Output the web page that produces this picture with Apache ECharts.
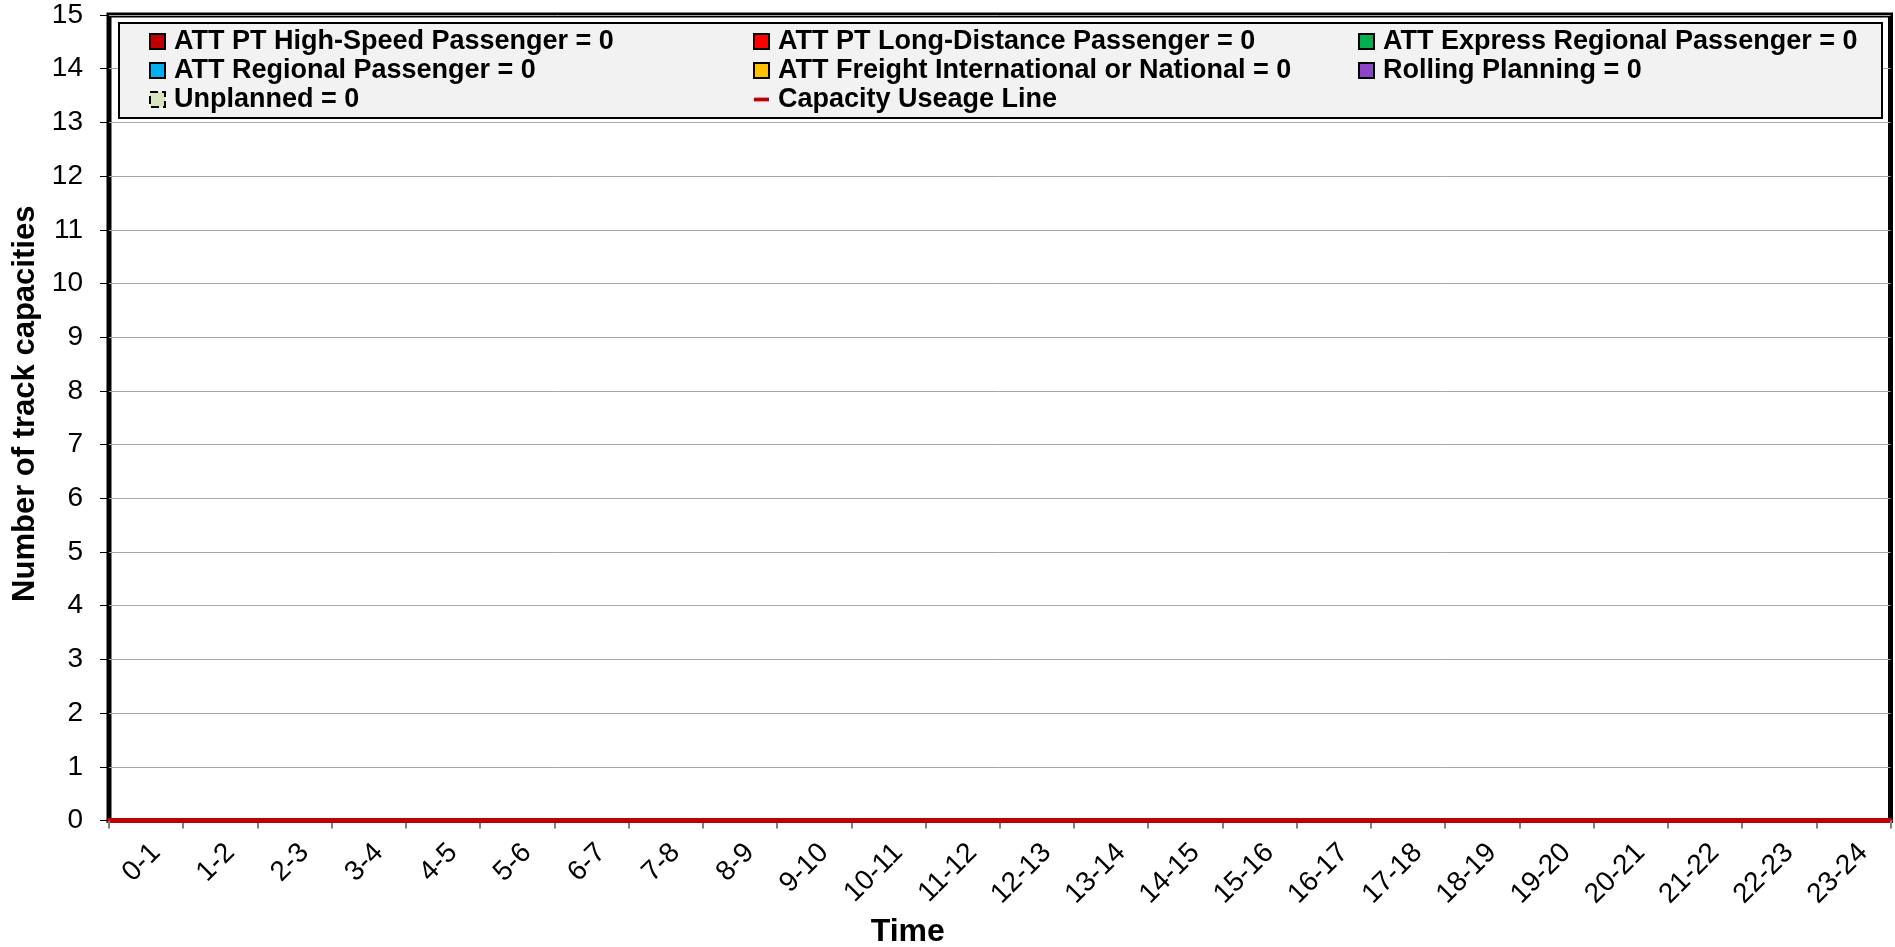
<!DOCTYPE html>
<html>
<head>
<meta charset="utf-8">
<script src="https://cdn.jsdelivr.net/npm/echarts@6/dist/echarts.min.js"></script>
<style>
html,body{margin:0;padding:0;background:#fff;}
#chart{width:1895px;height:947px;}
</style>
</head>
<body>
<div id="chart"></div>
<script>
var categories = ['0-1','1-2','2-3','3-4','4-5','5-6','6-7','7-8','8-9','9-10','10-11','11-12','12-13','13-14','14-15','15-16','16-17','17-18','18-19','19-20','20-21','21-22','22-23','23-24'];
var highSpeed      = [0,0,0,0,0,0,0,0,0,0,0,0,0,0,0,0,0,0,0,0,0,0,0,0];
var longDistance   = [0,0,0,0,0,0,0,0,0,0,0,0,0,0,0,0,0,0,0,0,0,0,0,0];
var expressRegional= [0,0,0,0,0,0,0,0,0,0,0,0,0,0,0,0,0,0,0,0,0,0,0,0];
var regional       = [0,0,0,0,0,0,0,0,0,0,0,0,0,0,0,0,0,0,0,0,0,0,0,0];
var freight        = [0,0,0,0,0,0,0,0,0,0,0,0,0,0,0,0,0,0,0,0,0,0,0,0];
var rolling        = [0,0,0,0,0,0,0,0,0,0,0,0,0,0,0,0,0,0,0,0,0,0,0,0];
var unplanned      = [0,0,0,0,0,0,0,0,0,0,0,0,0,0,0,0,0,0,0,0,0,0,0,0];
var capacityLine   = [0,0,0,0,0,0,0,0,0,0,0,0,0,0,0,0,0,0,0,0,0,0,0,0];
var seriesNames = [
  'ATT PT High-Speed Passenger = 0',
  'ATT PT Long-Distance Passenger = 0',
  'ATT Express Regional Passenger = 0',
  'ATT Regional Passenger = 0',
  'ATT Freight International or National = 0',
  'Rolling Planning = 0',
  'Unplanned = 0',
  'Capacity Useage Line'
];
var seriesColors = ['#c00000','#ff0000','#00b050','#00b0f0','#ffc000','#8a45c8','#d7e4bd','#c00000'];
var barData = [highSpeed, longDistance, expressRegional, regional, freight, rolling, unplanned];

var FONT = '"Liberation Sans", Arial, Helvetica, sans-serif';

var series = barData.map(function (d, i) {
  return {
    name: seriesNames[i], type: 'bar', stack: 'total', data: d,
    itemStyle: { color: seriesColors[i] }, barWidth: '60%'
  };
});
series.push({
  name: seriesNames[7], type: 'line', data: capacityLine, symbol: 'none',
  lineStyle: { color: seriesColors[7], width: 5 }, itemStyle: { color: seriesColors[7] }, z: 5
});

function legendItem(i) {
  if (i === 7) {
    return { name: seriesNames[i], icon: 'path://M0,0H16V4H0Z', itemStyle: { color: seriesColors[i], borderWidth: 0 } };
  }
  return {
    name: seriesNames[i], icon: 'rect',
    itemStyle: { color: seriesColors[i], borderColor: '#000', borderWidth: 2, borderType: i === 6 ? 'dashed' : 'solid' }
  };
}
function makeLegend(left, idx) {
  return {
    orient: 'vertical', left: left, top: 27, padding: 0, itemGap: 0,
    itemWidth: 15, itemHeight: 15, z: 10, selectedMode: false,
    data: idx.map(legendItem),
    textStyle: { fontFamily: FONT, fontSize: 27, fontWeight: 'bold', color: '#000', lineHeight: 29, padding: [0, 0, 0, 4] }
  };
}

var chart = echarts.init(document.getElementById('chart'), null, { renderer: 'canvas' });
chart.setOption({
  animation: false,
  backgroundColor: '#ffffff',
  grid: { left: 109, top: 15, right: 4.5, bottom: 126.5, outerBoundsMode: 'none', containLabel: false, show: true, borderColor: '#000', borderWidth: 5, backgroundColor: 'transparent' },
  legend: [makeLegend(149, [0, 3, 6]), makeLegend(753, [1, 4, 7]), makeLegend(1358, [2, 5])],
  graphic: [{
    type: 'rect', z: 5, left: 118, top: 22,
    shape: { width: 1763, height: 95 },
    style: { fill: '#f2f2f2', stroke: '#000', lineWidth: 2 }
  }],
  xAxis: {
    type: 'category', data: categories, boundaryGap: true,
    name: 'Time', nameLocation: 'middle', nameGap: 96,
    nameTextStyle: { fontFamily: FONT, fontSize: 32, fontWeight: 'bold', color: '#000', padding: [0, 184, 0, 0] },
    axisLine: { show: true, lineStyle: { color: '#c00000', width: 5 } },
    axisTick: { show: true, length: 8, lineStyle: { color: '#808080', width: 2 } },
    axisLabel: { rotate: 45, margin: 18, verticalAlign: 'top', fontFamily: FONT, fontSize: 28, color: '#000', interval: 0 },
    splitLine: { show: false }
  },
  yAxis: {
    type: 'value', min: 0, max: 15, interval: 1,
    name: 'Number of track capacities', nameLocation: 'middle', nameGap: 66,
    nameTextStyle: { fontFamily: FONT, fontSize: 31, fontWeight: 'bold', color: '#000', padding: [0, 0, 0, 28] },
    axisLine: { show: false },
    axisTick: { show: true, length: 9, lineStyle: { color: '#000', width: 1 } },
    axisLabel: { margin: 26, fontFamily: FONT, fontSize: 28, color: '#000' },
    splitLine: { show: true, lineStyle: { color: '#a6a6a6', width: 1 } }
  },
  series: series
});
</script>
</body>
</html>
